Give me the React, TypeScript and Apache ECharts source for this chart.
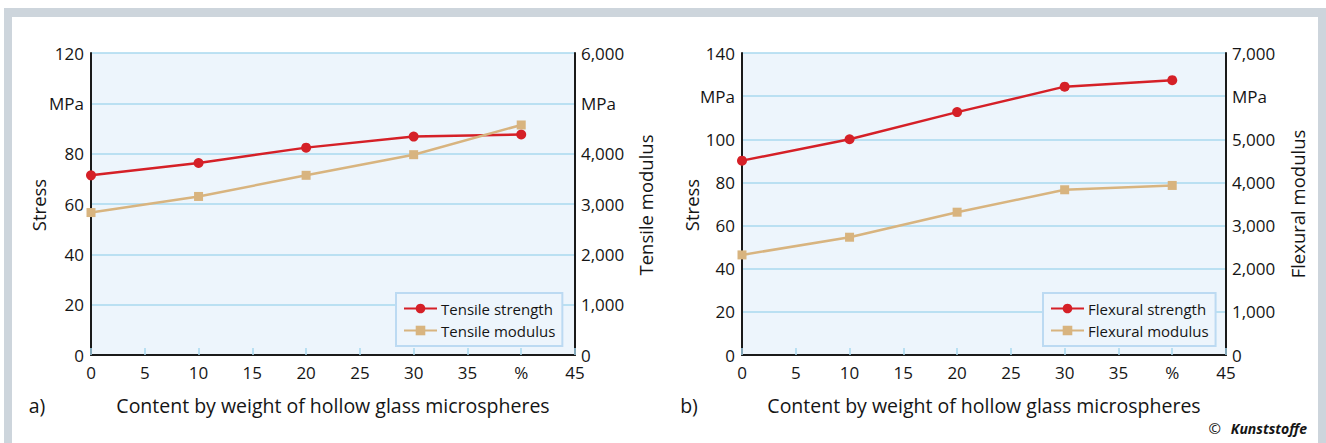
import React, { useEffect, useRef } from "react";
import * as echarts from "echarts";

// ---- data ----
const contents = [0, 10, 20, 30, 40]; // % by weight of hollow glass microspheres
const tensileStrength = [71.4, 76.3, 82.4, 86.8, 87.6]; // MPa
const tensileModulus = [2830, 3150, 3570, 3980, 4570]; // MPa
const flexuralStrength = [90.1, 100, 112.6, 124.4, 127.4]; // MPa
const flexuralModulus = [2320, 2730, 3310, 3830, 3930]; // MPa

// ---- axis settings / tick labels ----
const xRange = [0, 45, 5];
const xUnitTick = 40; // label "%" shown instead of 40
const leftStressRange = [0, 120, 20];
const leftStressUnitTick = 100;
const leftModulusRange = [0, 6000, 1000];
const leftModulusUnitTick = 5000;
const rightStressRange = [0, 140, 20];
const rightStressUnitTick = 120;
const rightModulusRange = [0, 7000, 1000];
const rightModulusUnitTick = 6000;
const unitLabel = "MPa";
const xTitle = "Content by weight of hollow glass microspheres";

const FONT = "'Open Sans', sans-serif";
const TXT = "#151515";
const RED = "#d52027";
const TAN = "#d8b47f";
const GRIDC = "#a9d9ef";
const BG = "#edf5fc";
const FRAME = "#cdd5dc";
const TICK_FS = 17;

const fmtThousands = (v: number) => v.toLocaleString("en-US");

function xAxis(gridIndex: number) {
  return {
    type: "value",
    gridIndex,
    min: xRange[0],
    max: xRange[1],
    interval: xRange[2],
    axisLine: { show: true, onZero: false, lineStyle: { color: "#1a1a1a", width: 2 } },
    axisTick: { show: true, inside: true, length: 7, lineStyle: { color: GRIDC, width: 1.5 } },
    splitLine: { show: false },
    axisLabel: {
      margin: 9,
      fontSize: TICK_FS,
      lineHeight: TICK_FS,
      fontFamily: FONT,
      color: TXT,
      formatter: (v: number) => (v === xUnitTick ? "%" : String(v)),
    },
  };
}

function yLeft(gridIndex: number, range: number[], unitTick: number) {
  return {
    type: "value",
    gridIndex,
    position: "left",
    min: range[0],
    max: range[1],
    interval: range[2],
    axisLine: { show: true, onZero: false, lineStyle: { color: "#1a1a1a", width: 2 } },
    axisTick: { show: false },
    splitLine: { show: true, lineStyle: { color: GRIDC, width: 1.5 } },
    axisLabel: {
      margin: 7,
      fontSize: TICK_FS,
      lineHeight: TICK_FS,
      fontFamily: FONT,
      color: TXT,
      padding: [3, 0, 0, 0],
      formatter: (v: number) => (v === unitTick ? unitLabel : String(v)),
    },
  };
}

function yRight(gridIndex: number, range: number[], unitTick: number) {
  return {
    type: "value",
    gridIndex,
    position: "right",
    min: range[0],
    max: range[1],
    interval: range[2],
    axisLine: { show: true, onZero: false, lineStyle: { color: "#1a1a1a", width: 2 } },
    axisTick: { show: false },
    splitLine: { show: false },
    axisLabel: {
      margin: 6,
      fontSize: TICK_FS,
      lineHeight: TICK_FS,
      fontFamily: FONT,
      color: TXT,
      padding: [0, 0, 0, 0],
      formatter: (v: number) => (v === unitTick ? unitLabel : fmtThousands(v)),
    },
  };
}

function lineSeries(name: string, values: number[], xIdx: number, yIdx: number, color: string, symbol: string, size: number) {
  return {
    name,
    type: "line",
    xAxisIndex: xIdx,
    yAxisIndex: yIdx,
    data: contents.map((c, i) => [c, values[i]]),
    symbol,
    symbolSize: size,
    showSymbol: true,
    lineStyle: { color, width: 2.5 },
    itemStyle: { color, borderWidth: 0 },
    z: 3,
  };
}

function legend(left: number, top: number, names: string[]) {
  return {
    left,
    top,
    orient: "vertical",
    data: names,
    itemWidth: 33,
    itemHeight: 12,
    itemGap: 7,
    padding: [8, 7, 8, 7],
    backgroundColor: BG,
    borderColor: "#bcdaf2",
    borderWidth: 2,
    borderRadius: 0,
    textStyle: { fontSize: 15, fontFamily: FONT, color: TXT, padding: [0, 0, 0, -1] },
    selectedMode: false,
  };
}

function vText(x: number, y: number, text: string) {
  return {
    type: "text",
    x,
    y,
    rotation: Math.PI / 2,
    style: { text, fontSize: 18.5, fontFamily: FONT, fill: TXT, align: "center", verticalAlign: "middle" },
  };
}

function hText(x: number, y: number, text: string, align = "center", extra: any = {}) {
  return {
    type: "text",
    x,
    y,
    style: { text, fontSize: 19.5, fontFamily: FONT, fill: TXT, align, verticalAlign: "middle", ...extra },
  };
}

export default function App() {
  const ref = useRef<HTMLDivElement>(null);
  useEffect(() => {
    if (!ref.current) return;
    const chart = echarts.init(ref.current, undefined, { renderer: "svg" });
    const option: any = {
      animation: false,
      backgroundColor: "#ffffff",
      grid: [
        { left: 91, top: 53, width: 484, height: 302, show: true, backgroundColor: BG, borderWidth: 0 },
        { left: 742, top: 53, width: 484, height: 302, show: true, backgroundColor: BG, borderWidth: 0 },
      ],
      xAxis: [xAxis(0), xAxis(1)],
      yAxis: [
        yLeft(0, leftStressRange, leftStressUnitTick),
        yRight(0, leftModulusRange, leftModulusUnitTick),
        yLeft(1, rightStressRange, rightStressUnitTick),
        yRight(1, rightModulusRange, rightModulusUnitTick),
      ],
      legend: [
        legend(396, 293, ["Tensile strength", "Tensile modulus"]),
        legend(1043, 293, ["Flexural strength", "Flexural modulus"]),
      ],
      series: [
        lineSeries("Tensile strength", tensileStrength, 0, 0, RED, "circle", 10),
        lineSeries("Tensile modulus", tensileModulus, 0, 1, TAN, "rect", 9),
        lineSeries("Flexural strength", flexuralStrength, 1, 2, RED, "circle", 10),
        lineSeries("Flexural modulus", flexuralModulus, 1, 3, TAN, "rect", 9),
      ],
      graphic: [
        { type: "rect", shape: { x: 4, y: 8, width: 1322, height: 9 }, style: { fill: FRAME }, silent: true },
        { type: "rect", shape: { x: 4, y: 8, width: 8, height: 435 }, style: { fill: FRAME }, silent: true },
        { type: "rect", shape: { x: 1318, y: 8, width: 8, height: 435 }, style: { fill: FRAME }, silent: true },
        vText(38, 205, "Stress"),
        vText(645, 205, "Tensile modulus"),
        vText(691, 205, "Stress"),
        vText(1297, 204, "Flexural modulus"),
        hText(333, 405, xTitle),
        hText(984, 405, xTitle),
        hText(37, 405, "a)"),
        hText(689, 405, "b)"),
        hText(1307, 428, "Kunststoffe", "right", { fontSize: 14, fontWeight: "bold", fontStyle: "italic" }),
        hText(1221, 428, "©", "right", { fontSize: 15 }),
      ],
    };
    chart.setOption(option);
    return () => chart.dispose();
  }, []);
  return <div ref={ref} style={{ position: "absolute", left: 0, top: 0, width: 1326, height: 443 }} />;
}
